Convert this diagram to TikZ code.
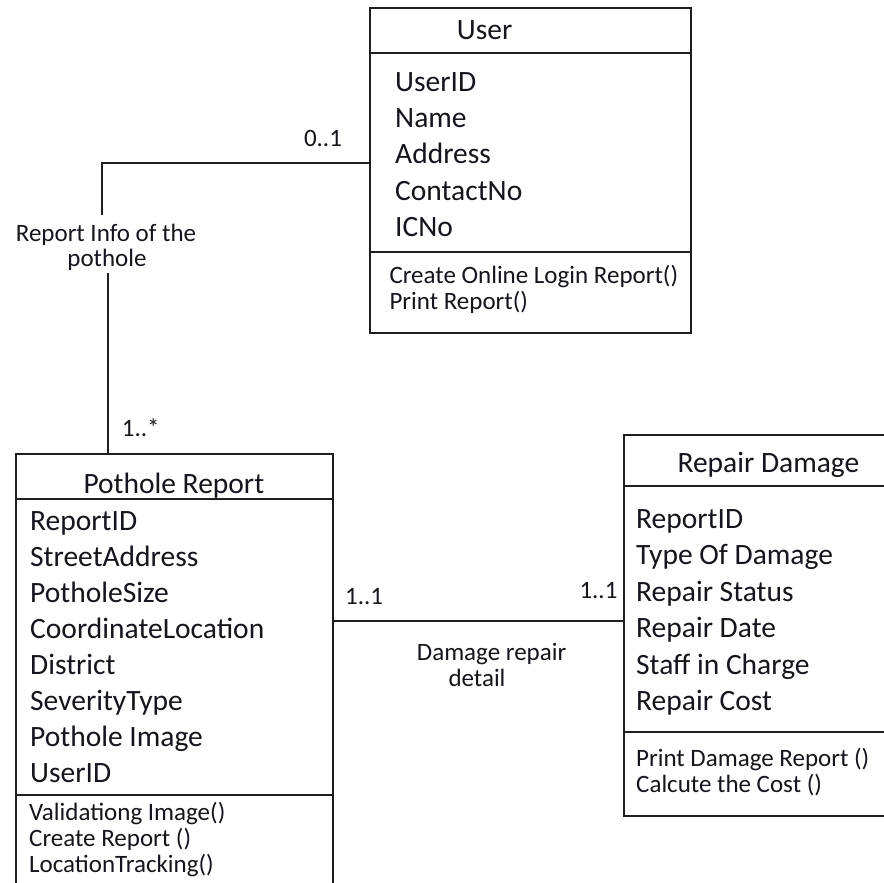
\documentclass[tikz,border=0pt]{standalone}
\usepackage{fontspec}
\setmainfont{Carlito}
\definecolor{linec}{RGB}{30,30,30}
\definecolor{txt}{RGB}{22,20,28}
\begin{document}
\begin{tikzpicture}[x=1pt,y=-1pt,
  classbox/.style={draw=linec, line width=1.6pt, inner sep=0pt},
  wire/.style={draw=linec, line width=1.6pt},
  big/.style={font=\fontsize{29.5}{36}\selectfont, inner sep=0pt, anchor=base west, text=txt},
  small/.style={font=\fontsize{25}{26}\selectfont, inner sep=0pt, anchor=base west, text=txt}]
\clip (0,0) rectangle (884,883);
\fill[white] (0,0) rectangle (884,883);

% User class
\node[classbox, minimum width=321pt, minimum height=325pt] (user) at (530.5,170.5) {};
\draw[wire] ([yshift=-46pt]user.north west) -- ([yshift=-46pt]user.north east);
\draw[wire] ([yshift=-245pt]user.north west) -- ([yshift=-245pt]user.north east);
\node[big] (usertitle) at (456.7,40) {User};
\foreach \t [count=\i] in {UserID,Name,Address,ContactNo,ICNo}
  \node[big, name=ua\i] at (395,{91.7+36.1*(\i-1)}) {\t};
\node[small] (um1) at (389.3,283.3) {Create Online Login Report()};
\node[small] (um2) at (389.3,309.3) {Print Report()};

% Pothole Report class
\node[classbox, minimum width=317pt, minimum height=441pt] (pothole) at (174.5,674.5) {};
\draw[wire] ([yshift=-46pt]pothole.north west) -- ([yshift=-46pt]pothole.north east);
\draw[wire] ([yshift=-342pt]pothole.north west) -- ([yshift=-342pt]pothole.north east);
\node[big] (ptitle) at (83.3,493) {Pothole Report};
\foreach \t [count=\i] in {ReportID,StreetAddress,PotholeSize,CoordinateLocation,District,SeverityType,Pothole Image,UserID}
  \node[big, name=pa\i] at (30,{530+36.1*(\i-1)}) {\t};
\node[small] (pm1) at (29,820) {Validationg Image()};
\node[small] (pm2) at (29,846) {Create Report ()};
\node[small] (pm3) at (29,872) {LocationTracking()};

% Repair Damage class
\node[classbox, minimum width=271pt, minimum height=381pt] (repair) at (759.5,625.5) {};
\draw[wire] ([yshift=-52pt]repair.north west) -- ([yshift=-52pt]repair.north east);
\draw[wire] ([yshift=-298pt]repair.north west) -- ([yshift=-298pt]repair.north east);
\node[big] (rtitle) at (677.3,472.7) {Repair Damage};
\foreach \t [count=\i] in {ReportID,Type Of Damage,Repair Status,Repair Date,Staff in Charge,Repair Cost}
  \node[big, name=ra\i] at (636,{528.3+36.5*(\i-1)}) {\t};
\node[small] (rm1) at (636,766.7) {Print Damage Report ()};
\node[small] (rm2) at (636,792.7) {Calcute the Cost ()};

% User -- Pothole Report association
\node[small, anchor=base] (rinfoA) at (106,241.7) {Report Info of the};
\node[small, anchor=base] (rinfoB) at (107,266.7) {pothole};
\coordinate (j1) at (102,163);
\coordinate (j2) at (108,453);
\path (rinfoA.north) ++(0,-9) coordinate (rtop);
\path (rinfoB.south) ++(0,2) coordinate (rbot);
\draw[wire] (user.west |- j1) -- (j1) -- (j1 |- rtop);
\draw[wire] (j2 |- rbot) -- (j2 |- pothole.north);
\node[small, anchor=base] (m01) at (323,146.7) {0..1};
\node[small] (m1n) at (121.7,436) {1..*};

% Pothole Report -- Repair Damage association
\coordinate (j3) at (480,621);
\draw[wire] (pothole.east |- j3) -- (repair.west |- j3);
\node[small] (m11a) at (345,604.3) {1..1};
\node[small] (m11b) at (579.3,598.3) {1..1};
\node[small] (dmgA) at (416.7,660) {Damage repair};
\node[small] (dmgB) at (448.3,686) {detail};
\end{tikzpicture}
\end{document}
